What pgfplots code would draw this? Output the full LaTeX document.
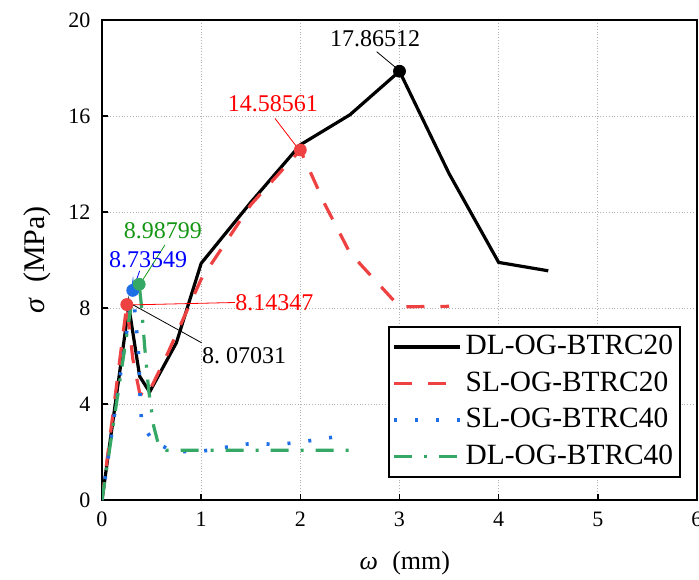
\documentclass[border=0pt]{standalone}
\usepackage{fontspec}
\setmainfont{Liberation Serif}
\usepackage{pgfplots}
\pgfplotsset{compat=1.18}
\definecolor{cred}{RGB}{238,66,66}
\definecolor{cblue}{RGB}{30,110,230}
\definecolor{cgreen}{RGB}{52,168,100}
\definecolor{tgreen}{RGB}{20,150,20}
\definecolor{tred}{RGB}{255,0,0}
\definecolor{tblue}{RGB}{0,0,255}
\begin{document}
\begin{tikzpicture}
\begin{axis}[
  scale only axis, width=297.5pt, height=240pt,
  xmin=0, xmax=6, ymin=0, ymax=20,
  xtick={0,1,2,3,4,5,6}, ytick={0,4,8,12,16,20},
  xtick pos=bottom, ytick pos=left,
  tick align=inside, major tick length=3pt,
  every tick/.style={black, line width=0.8pt},
  grid=major, grid style={densely dotted, gray!60, line width=0.4pt},
  axis line style={line width=0.9pt},
  /pgf/number format/assume math mode=true,
  tick label style={font=\fontsize{11}{13}\selectfont},
  yticklabel style={xshift=-2.3pt},
  xticklabel style={yshift=-2.3pt},
  xlabel={{\itshape ω}\hspace{0.55em}(mm)},
  ylabel={{\itshape σ}\hspace{0.55em}(MPa)},
  xlabel style={font=\fontsize{13}{15}\selectfont, at={(axis description cs:0.509,-0.131)}, anchor=center},
  ylabel style={font=\fontsize{15}{17}\selectfont, at={(axis description cs:-0.109,0.5)}, anchor=center},
  legend cell align=left,
  legend style={at={(rel axis cs:0.973,0.046)}, anchor=south east, draw=black, line width=0.8pt,
    font=\fontsize{14.7}{17}\selectfont, inner xsep=1.5pt, inner ysep=1pt,
    nodes={text height=10.5pt, text depth=3pt, inner ysep=2.4pt, inner xsep=2pt}},
  legend image code/.code={\draw[#1] (0pt,0pt) -- (33pt,0pt);},
]
\addplot[black, line width=1.6pt] coordinates {
(0,0) (0.27,8.07031) (0.38,5.15) (0.48,4.5) (0.75,6.55) (1.0,9.86) (1.5,12.4)
(2.0,14.8) (2.5,16.05) (3.0,17.86512) (3.5,13.6) (4.0,9.9) (4.5,9.55)};
\addlegendentry{DL-OG-BTRC20}
\addplot[cred, line width=1.6pt, dash pattern=on 9pt off 8pt] coordinates {
(0,0) (0.25,8.14347) (0.31,5.9) (0.38,4.45) (0.45,4.3) (0.65,6.0) (1.0,9.2)
(1.5,12.3) (2.0,14.58561) (2.25,12.3) (2.5,10.3) (3.0,8.05) (3.5,8.07)};
\addlegendentry{SL-OG-BTRC20}
\addplot[cblue, line width=1.8pt, dash pattern=on 1.5pt off 9pt] coordinates {
(0,0) (0.31,8.73549) (0.34,7.5) (0.37,6.0) (0.385,4.2) (0.40,3.2) (0.51,2.47)
(0.70,2.05) (0.92,2.0) (1.13,2.1) (1.35,2.28) (1.55,2.37) (1.77,2.3) (2.0,2.42)
(2.2,2.53) (2.45,2.7)};
\addlegendentry{SL-OG-BTRC40}
\addplot[cgreen, line width=1.6pt, dash pattern=on 9pt off 6pt on 1.5pt off 6pt] coordinates {
(0,0) (0.29,8.0) (0.375,8.98799) (0.40,8.0) (0.43,6.4) (0.47,4.6) (0.52,3.1)
(0.57,2.3) (0.65,2.07) (2.5,2.07)};
\addlegendentry{DL-OG-BTRC40}
% markers
\addplot[forget plot, only marks, mark=*, mark size=3pt, black] coordinates {(3,17.86512)};
\addplot[forget plot, only marks, mark=*, mark size=3pt, cred] coordinates {(2,14.58561) (0.25,8.14347)};
\addplot[forget plot, only marks, mark=*, mark size=3pt, cblue] coordinates {(0.31,8.73549)};
\addplot[forget plot, only marks, mark=*, mark size=3pt, cgreen] coordinates {(0.375,8.98799)};
% annotations
\draw[black, line width=0.4pt] (axis cs:2.77,18.68) -- (axis cs:2.97,17.99);
\node[black, inner sep=0pt, font=\fontsize{12}{14}\selectfont] at (axis cs:2.753,19.21) {17.86512};
\draw[tred, line width=0.4pt] (axis cs:1.744,15.9) -- (axis cs:1.963,14.72);
\node[tred, inner sep=0pt, font=\fontsize{12}{14}\selectfont] at (axis cs:1.724,16.5) {14.58561};
\draw[tblue, line width=0.4pt] (axis cs:0.32,8.85) -- (axis cs:0.38,9.55);
\draw[tgreen, line width=0.4pt] (axis cs:0.40,9.1) -- (axis cs:0.635,10.63);
\node[tgreen, inner sep=0pt, font=\fontsize{12}{14}\selectfont] at (axis cs:0.615,11.21) {8.98799};
\node[tblue, inner sep=0pt, font=\fontsize{12}{14}\selectfont] at (axis cs:0.464,10.0) {8.73549};
\draw[tred, line width=0.4pt] (axis cs:0.31,8.13) -- (axis cs:1.34,8.23);
\node[tred, inner sep=0pt, anchor=west, font=\fontsize{12}{14}\selectfont] at (axis cs:1.341,8.21) {8.14347};
\draw[black, line width=0.4pt] (axis cs:0.316,8.125) -- (axis cs:1.005,6.55);
\node[black, inner sep=0pt, anchor=west, font=\fontsize{12}{14}\selectfont] at (axis cs:1.005,6.0) {8.\ 07031};
\end{axis}
\pgfresetboundingbox
\path[use as bounding box] ([shift={(-51pt,-39.5pt)}]current axis.south west) rectangle ([shift={(1pt,10pt)}]current axis.north east);
\end{tikzpicture}
\end{document}
